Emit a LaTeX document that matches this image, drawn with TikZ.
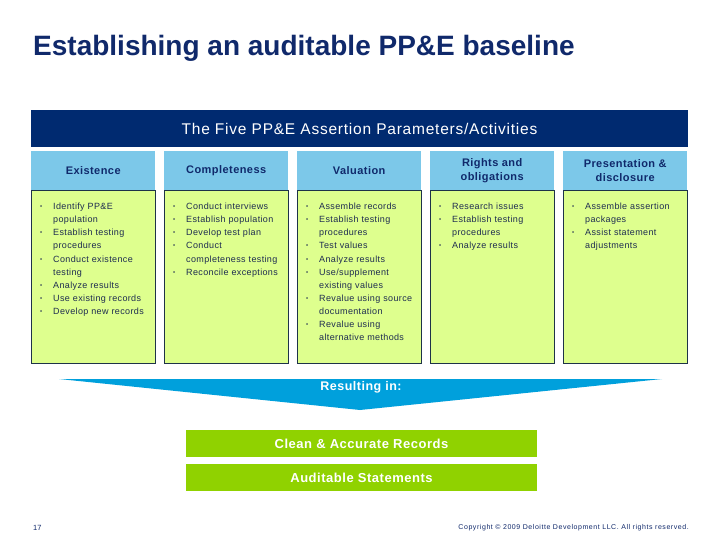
\documentclass[tikz,border=0pt]{standalone}
\usepackage{fontspec}
\setmainfont{Liberation Sans}
\usepackage{xcolor}
\usetikzlibrary{positioning,calc}
\definecolor{titleNavy}{HTML}{10296B}
\definecolor{barNavy}{HTML}{002A70}
\definecolor{headBlue}{HTML}{7CC8E9}
\definecolor{bodyLime}{HTML}{DEFF8E}
\definecolor{lineDark}{HTML}{1E3348}
\definecolor{itemNavy}{HTML}{1E2C50}
\definecolor{arrowBlue}{HTML}{00A0DC}
\definecolor{resultGreen}{HTML}{90D200}

\newenvironment{bullets}{%
  \begin{list}{\raisebox{1pt}{\fontsize{6}{6}\selectfont\textbullet}}{%
    \setlength{\leftmargin}{13pt}\setlength{\labelwidth}{13pt}%
    \setlength{\labelsep}{0pt}\setlength{\itemsep}{0pt}%
    \setlength{\parsep}{0pt}\setlength{\topsep}{0pt}\setlength{\partopsep}{0pt}%
    \renewcommand{\makelabel}[1]{##1\hfil}}}%
  {\end{list}}

\begin{document}
\begin{tikzpicture}[x=1pt, y=-1pt,
    title/.style={anchor=base west, inner sep=0pt, text=titleNavy, font=\fontsize{28}{28}\selectfont\bfseries},
    bar/.style={fill=barNavy, text=white, minimum width=657pt, minimum height=37pt, inner sep=0pt, font=\fontsize{15.5}{15.5}\selectfont\addfontfeature{LetterSpace=5}},
    head/.style={fill=headBlue, text=titleNavy, anchor=north west, minimum width=124pt, minimum height=39pt, inner sep=0pt, align=center, font=\fontsize{11}{14}\selectfont\bfseries\addfontfeature{LetterSpace=4}},
    body/.style={draw=lineDark, fill=bodyLime, anchor=north west, minimum width=124pt, minimum height=173pt, inner sep=0pt},
    items/.style={anchor=north west, inner sep=0pt, text width=114pt, align=left, text=itemNavy, font=\fontsize{9}{13.1}\selectfont\addfontfeature{LetterSpace=4}},
    result/.style={fill=resultGreen, text=white, minimum width=351pt, minimum height=27pt, inner sep=0pt, font=\fontsize{13}{13}\selectfont\bfseries\addfontfeature{LetterSpace=4}},
    foot/.style={inner sep=0pt, text=titleNavy},
  ]
  \useasboundingbox[fill=white] (0,0) rectangle (720,540);

  % title and banner
  \node[title] (title) at (33,56) {Establishing an auditable PP\&E baseline};
  \node[bar] (bar) at (359.5,128.5) {The Five PP\&E Assertion Parameters/Activities};

  % column headings
  \node[head] (h1) at (31,151)  {Existence};
  \node[head] (h2) at (164,151) {Completeness};
  \node[head] (h3) at (297,151) {Valuation};
  \node[head] (h4) at (430,151) {Rights and\\obligations};
  \node[head] (h5) at (563,151) {Presentation \&\\disclosure};

  % column bodies
  \node[body] (b1) at (h1.south west) {};
  \node[body] (b2) at (h2.south west) {};
  \node[body] (b3) at (h3.south west) {};
  \node[body] (b4) at (h4.south west) {};
  \node[body] (b5) at (h5.south west) {};

  \node[items] (t1) at ([shift={(9,6)}]b1.north west) {\begin{bullets}
      \item Identify PP\&E\\population
      \item Establish testing\\procedures
      \item Conduct existence\\testing
      \item Analyze results
      \item Use existing records
      \item Develop new records
    \end{bullets}};
  \node[items] (t2) at ([shift={(9,6)}]b2.north west) {\begin{bullets}
      \item Conduct interviews
      \item Establish population
      \item Develop test plan
      \item Conduct\\completeness testing
      \item Reconcile exceptions
    \end{bullets}};
  \node[items] (t3) at ([shift={(9,6)}]b3.north west) {\begin{bullets}
      \item Assemble records
      \item Establish testing\\procedures
      \item Test values
      \item Analyze results
      \item Use/supplement\\existing values
      \item Revalue using source\\documentation
      \item Revalue using\\alternative methods
    \end{bullets}};
  \node[items] (t4) at ([shift={(9,6)}]b4.north west) {\begin{bullets}
      \item Research issues
      \item Establish testing\\procedures
      \item Analyze results
    \end{bullets}};
  \node[items] (t5) at ([shift={(9,6)}]b5.north west) {\begin{bullets}
      \item Assemble assertion\\packages
      \item Assist statement\\adjustments
    \end{bullets}};

  % funnel and outcomes
  \fill[arrowBlue] (59,379) -- (662,379) -- (360,410) -- cycle;
  \node[inner sep=0pt, text=white, font=\fontsize{12.5}{12.5}\selectfont\bfseries\addfontfeature{LetterSpace=4}] (res) at (361,387) {Resulting in:};
  \node[result] (clean) at (361.5,443.5) {Clean \& Accurate Records};
  \node[result] (audit) at (361.5,477.5) {Auditable Statements};

  % footer
  \node[foot, anchor=west, font=\fontsize{7.5}{7.5}\selectfont] (page) at (33,528) {17};
  \node[foot, anchor=east, font=\fontsize{7}{7}\selectfont\addfontfeature{LetterSpace=8}] (copy) at (689,528) {Copyright © 2009 Deloitte Development LLC. All rights reserved.};
\end{tikzpicture}
\end{document}
